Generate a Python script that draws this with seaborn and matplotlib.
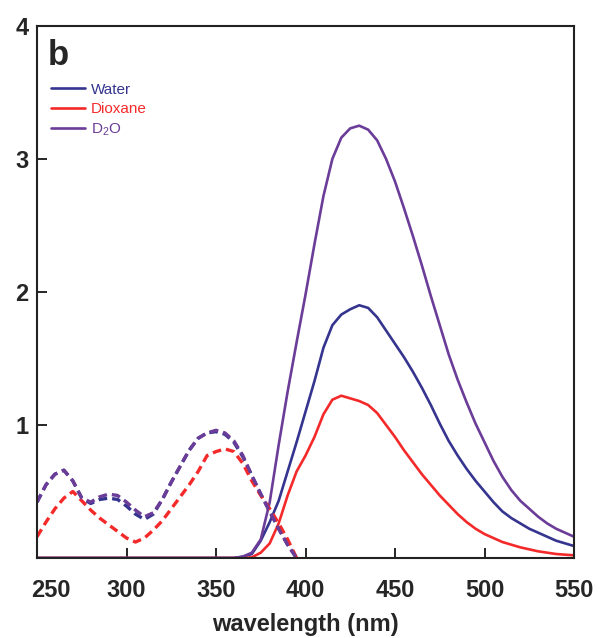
import numpy as np
import pandas as pd
import matplotlib
matplotlib.use("Agg")
import matplotlib.pyplot as plt
from matplotlib.transforms import ScaledTranslation
import seaborn as sns

# emission spectra (solid lines)
em_wavelength = [250, 345] + list(range(355, 555, 5))
em_water = [0.0, 0.0,
            0.0, 0.0, 0.01, 0.03, 0.13, 0.27, 0.43, 0.65, 0.87, 1.10,
            1.33, 1.58, 1.75, 1.83, 1.87, 1.90, 1.88, 1.81, 1.71, 1.61,
            1.51, 1.40, 1.28, 1.15, 1.01, 0.88, 0.77, 0.67, 0.58, 0.50,
            0.42, 0.35, 0.30, 0.26, 0.22, 0.19, 0.16, 0.13, 0.11, 0.09]
em_dioxane = [0.0, 0.0,
              0.0, 0.0, 0.0, 0.005, 0.04, 0.11, 0.26, 0.47, 0.65, 0.77,
              0.91, 1.08, 1.19, 1.22, 1.20, 1.18, 1.15, 1.09, 1.00, 0.91,
              0.81, 0.72, 0.63, 0.55, 0.47, 0.40, 0.33, 0.27, 0.22, 0.18,
              0.15, 0.12, 0.10, 0.08, 0.065, 0.05, 0.04, 0.03, 0.025, 0.02]
em_d2o = [0.0, 0.0,
          0.0, 0.0, 0.01, 0.04, 0.14, 0.42, 0.85, 1.25, 1.62, 1.98,
          2.36, 2.72, 3.00, 3.16, 3.23, 3.25, 3.22, 3.14, 3.00, 2.83,
          2.63, 2.42, 2.20, 1.97, 1.75, 1.53, 1.34, 1.17, 1.01, 0.87,
          0.73, 0.61, 0.51, 0.43, 0.37, 0.31, 0.26, 0.22, 0.19, 0.16]

# absorption spectra (dashed lines)
abs_wavelength = list(range(250, 400, 5))
abs_water = [0.42, 0.55, 0.63, 0.66, 0.58, 0.45, 0.41, 0.44, 0.45, 0.44,
             0.39, 0.33, 0.29, 0.33, 0.44, 0.57, 0.69, 0.81, 0.90, 0.94,
             0.95, 0.93, 0.87, 0.76, 0.62, 0.48, 0.35, 0.22, 0.10, 0.0]
abs_dioxane = [0.16, 0.27, 0.37, 0.45, 0.50, 0.43, 0.36, 0.30, 0.25, 0.20,
               0.15, 0.12, 0.15, 0.21, 0.28, 0.37, 0.46, 0.55, 0.65, 0.77,
               0.80, 0.82, 0.80, 0.71, 0.58, 0.47, 0.37, 0.26, 0.14, 0.0]
abs_d2o = [0.42, 0.55, 0.63, 0.66, 0.58, 0.45, 0.42, 0.46, 0.48, 0.47,
           0.42, 0.36, 0.31, 0.34, 0.44, 0.57, 0.69, 0.81, 0.90, 0.94,
           0.96, 0.94, 0.88, 0.77, 0.62, 0.48, 0.35, 0.22, 0.10, 0.0]

solvents = ["Water", "Dioxane", "D$_2$O"]
colors = ["#35348f", "#f42a2a", "#6b3c98"]

sns.set_style("ticks")
plt.rcParams["font.family"] = ["Liberation Sans", "DejaVu Sans"]
plt.rcParams["mathtext.default"] = "regular"

fig = plt.figure(figsize=(6.01, 6.38), dpi=100)
ax = fig.add_axes([0.0616, 0.1254, 0.8935, 0.834])

em_data = [em_water, em_dioxane, em_d2o]
abs_data = [abs_water, abs_dioxane, abs_d2o]

handles = []
for name, col, ys in zip(solvents, colors, em_data):
    sns.lineplot(x=em_wavelength, y=ys, color=col, linewidth=1.9,
                 estimator=None, ax=ax, legend=False)
    handles.append(ax.lines[-1])

for name, col, ys in zip(solvents, colors, abs_data):
    sns.lineplot(x=abs_wavelength, y=ys, color=col, linewidth=2.4,
                 estimator=None, ax=ax, legend=False)
    ax.lines[-1].set_dashes((2.6, 1.5))

ax.set_xlim(250, 550)
ax.set_ylim(0, 4)
ax.set_xticks([250, 300, 350, 400, 450, 500, 550])
ax.set_yticks([1, 2, 3, 4])
ax.tick_params(direction="in", length=7, width=1.4, labelsize=17)
ax.tick_params(axis="x", pad=15)
ax.tick_params(axis="y", pad=6)
for lab in ax.get_xticklabels() + ax.get_yticklabels():
    lab.set_fontweight("bold")
# first x label sits a little to the right of its tick in the original
first = ax.get_xticklabels()[0]
first.set_transform(first.get_transform() + ScaledTranslation(14 / 100, 0, fig.dpi_scale_trans))
for sp in ax.spines.values():
    sp.set_linewidth(1.5)
    sp.set_color("#222222")

ax.set_xlabel("wavelength (nm)", fontsize=17, fontweight="bold", labelpad=8)
ax.set_ylabel("")

ax.text(0.02, 0.975, "b", transform=ax.transAxes, fontsize=25,
        fontweight="bold", va="top", ha="left")

leg = ax.legend(handles, solvents, loc="upper left",
                bbox_to_anchor=(0.026, 0.893), frameon=False, fontsize=11,
                handlelength=2.2, handletextpad=0.4, labelspacing=0.35,
                borderpad=0, borderaxespad=0, labelcolor="linecolor")

fig.savefig("out.png", dpi=100)
plt.close(fig)
